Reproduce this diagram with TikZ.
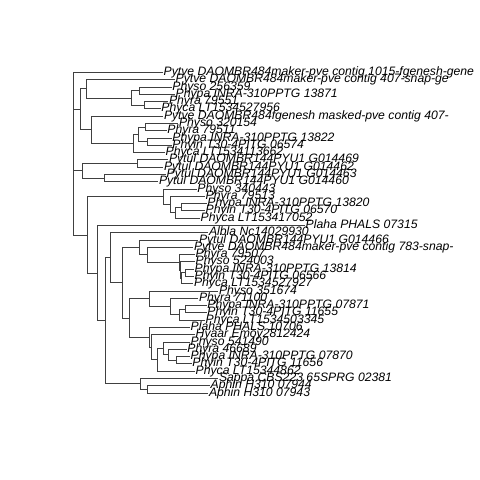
\documentclass[tikz,border=0pt]{standalone}
\usepackage{fontspec}
\setmainfont{Liberation Sans}
\begin{document}
\begin{tikzpicture}[x=1pt,y=-1pt,
  br/.style={draw=black!75,line width=0.9pt},
  lab/.style={anchor=base west,inner sep=0pt,xshift=0.5pt,yshift=-3pt,font=\itshape\fontsize{12.2}{12.2}\selectfont}]
\useasboundingbox (0,0) rectangle (480,480);
% tips
\coordinate (t1) at (163,72.5);
\coordinate (t2) at (175,79.78);
\coordinate (t3) at (171.7,87.07);
\coordinate (t4) at (175,94.35);
\coordinate (t5) at (168.3,101.64);
\coordinate (t6) at (160.7,108.92);
\coordinate (t7) at (163.3,116.2);
\coordinate (t8) at (178.3,123.49);
\coordinate (t9) at (166.7,130.77);
\coordinate (t10) at (171.7,138.06);
\coordinate (t11) at (171.7,145.34);
\coordinate (t12) at (165,152.62);
\coordinate (t13) at (168.3,159.91);
\coordinate (t14) at (163.3,167.19);
\coordinate (t15) at (166,174.48);
\coordinate (t16) at (158.3,181.76);
\coordinate (t17) at (196.7,189.04);
\coordinate (t18) at (205,196.33);
\coordinate (t19) at (206.7,203.61);
\coordinate (t20) at (205,210.9);
\coordinate (t21) at (200,218.18);
\coordinate (t22) at (305,225.46);
\coordinate (t23) at (208.3,232.75);
\coordinate (t24) at (198.3,240.03);
\coordinate (t25) at (193.3,247.32);
\coordinate (t26) at (195,254.6);
\coordinate (t27) at (195,261.88);
\coordinate (t28) at (194,269.17);
\coordinate (t29) at (194,276.45);
\coordinate (t30) at (193.3,283.74);
\coordinate (t31) at (218.3,291.02);
\coordinate (t32) at (198.3,298.3);
\coordinate (t33) at (206.7,305.59);
\coordinate (t34) at (206.7,312.87);
\coordinate (t35) at (205,320.16);
\coordinate (t36) at (190,327.44);
\coordinate (t37) at (195,334.72);
\coordinate (t38) at (190,342.01);
\coordinate (t39) at (186.7,349.29);
\coordinate (t40) at (190,356.58);
\coordinate (t41) at (191.7,363.86);
\coordinate (t42) at (195,371.14);
\coordinate (t43) at (218.3,378.43);
\coordinate (t44) at (210,385.71);
\coordinate (t45) at (208.3,393);
% internal nodes
\coordinate (R) at (73.3,146.92);
\coordinate (A) at (80,109.38);
\coordinate (A1) at (86.7,88.89);
\coordinate (A1b) at (131.3,98.0);
\coordinate (A1b1) at (139,90.71);
\coordinate (A1b2) at (144,105.28);
\coordinate (A2) at (91,129.86);
\coordinate (A2b) at (133.5,143.52);
\coordinate (A2b1) at (138.3,134.42);
\coordinate (A2b1a) at (145,127.13);
\coordinate (A2b1b) at (147,141.7);
\coordinate (P) at (82.7,170.84);
\coordinate (P1) at (137.7,163.55);
\coordinate (P2) at (104.5,178.12);
\coordinate (L) at (87,234.96);
\coordinate (L1) at (163.3,196.78);
\coordinate (L1a) at (170,204.53);
\coordinate (L1b) at (175,212.72);
\coordinate (L1b1) at (181.7,207.26);
\coordinate (L2) at (97.3,273.14);
\coordinate (L2b) at (105.3,320.82);
\coordinate (L3) at (110,257.75);
\coordinate (L3b) at (122.7,282.74);
\coordinate (L5) at (139.3,247.43);
\coordinate (L5b) at (147.3,254.83);
\coordinate (L5c) at (179.5,262.34);
\coordinate (L5d) at (180.5,270.08);
\coordinate (L5e) at (181.5,278.27);
\coordinate (L5f) at (185,272.81);
\coordinate (L6) at (129,318.05);
\coordinate (L7) at (149.5,298.76);
\coordinate (L7b) at (170.5,306.5);
\coordinate (L7c) at (179.3,314.69);
\coordinate (L7d) at (185,309.23);
\coordinate (L8) at (149.3,337.34);
\coordinate (L8b) at (151,347.24);
\coordinate (L8c) at (157.7,359.76);
\coordinate (L8d) at (163.3,348.38);
\coordinate (L8e) at (168,354.76);
\coordinate (L8f) at (176,360.22);
\coordinate (L4) at (140,383.89);
\coordinate (L4b) at (147.3,389.36);
% edges
\foreach \p/\c in {R/t1,R/A,R/P,R/L,
  A/A1,A/A2,A1/t2,A1/A1b,A1b/A1b1,A1b/A1b2,A1b1/t3,A1b1/t4,A1b2/t5,A1b2/t6,
  A2/t7,A2/A2b,A2b/A2b1,A2b/t12,A2b1/A2b1a,A2b1/A2b1b,A2b1a/t8,A2b1a/t9,A2b1b/t10,A2b1b/t11,
  P/P1,P/P2,P1/t13,P1/t14,P2/t15,P2/t16,
  L/L1,L/L2,L1/t17,L1/L1a,L1a/t18,L1a/L1b,L1b/L1b1,L1b/t21,L1b1/t19,L1b1/t20,
  L2/t22,L2/L2b,L2b/L3,L2b/L4,L3/t23,L3/L3b,L3b/L5,L3b/L6,
  L5/t24,L5/L5b,L5b/t25,L5b/L5c,L5c/t26,L5c/L5d,L5d/t27,L5d/L5e,L5e/L5f,L5e/t30,L5f/t28,L5f/t29,
  L6/L7,L6/L8,L7/t31,L7/L7b,L7b/t32,L7b/L7c,L7c/L7d,L7c/t35,L7d/t33,L7d/t34,
  L8/t36,L8/L8b,L8b/t37,L8b/L8c,L8c/L8d,L8c/t42,L8d/t38,L8d/L8e,L8e/t39,L8e/L8f,L8f/t40,L8f/t41,
  L4/t43,L4/L4b,L4b/t44,L4b/t45}
  {\draw[br] (\p) |- (\c);}
% labels
\node[lab] (n1) at (t1) {Pytve DAOMBR484maker-pve contig 1015-fgenesh-gene};
\node[lab] (n2) at (t2) {Pytve DAOMBR484maker-pve contig 407-snap-ge};
\node[lab] (n3) at (t3) {Physo 256359};
\node[lab] (n4) at (t4) {Phypa INRA-310PPTG 13871};
\node[lab] (n5) at (t5) {Phyra 79551};
\node[lab] (n6) at (t6) {Phyca LT1534527956};
\node[lab] (n7) at (t7) {Pytve DAOMBR484fgenesh masked-pve contig 407-};
\node[lab] (n8) at (t8) {Physo 320154};
\node[lab] (n9) at (t9) {Phyra 79511};
\node[lab] (n10) at (t10) {Phypa INRA-310PPTG 13822};
\node[lab] (n11) at (t11) {Phyin T30-4PITG 06574};
\node[lab] (n12) at (t12) {Phyca LT1534113662};
\node[lab] (n13) at (t13) {Pytul DAOMBR144PYU1 G014469};
\node[lab] (n14) at (t14) {Pytul DAOMBR144PYU1 G014462};
\node[lab] (n15) at (t15) {Pytul DAOMBR144PYU1 G014463};
\node[lab] (n16) at (t16) {Pytul DAOMBR144PYU1 G014460};
\node[lab] (n17) at (t17) {Physo 340443};
\node[lab] (n18) at (t18) {Phyra 79513};
\node[lab] (n19) at (t19) {Phypa INRA-310PPTG 13820};
\node[lab] (n20) at (t20) {Phyin T30-4PITG 06570};
\node[lab] (n21) at (t21) {Phyca LT153417052};
\node[lab] (n22) at (t22) {Plaha PHALS 07315};
\node[lab] (n23) at (t23) {Albla Nc14029930};
\node[lab] (n24) at (t24) {Pytul DAOMBR144PYU1 G014466};
\node[lab] (n25) at (t25) {Pytve DAOMBR484maker-pve contig 783-snap-};
\node[lab] (n26) at (t26) {Phyra 79507};
\node[lab] (n27) at (t27) {Physo 524003};
\node[lab] (n28) at (t28) {Phypa INRA-310PPTG 13814};
\node[lab] (n29) at (t29) {Phyin T30-4PITG 06566};
\node[lab] (n30) at (t30) {Phyca LT1534527927};
\node[lab] (n31) at (t31) {Physo 351674};
\node[lab] (n32) at (t32) {Phyra 71100};
\node[lab] (n33) at (t33) {Phypa INRA-310PPTG 07871};
\node[lab] (n34) at (t34) {Phyin T30-4PITG 11655};
\node[lab] (n35) at (t35) {Phyca LT1534503345};
\node[lab] (n36) at (t36) {Plaha PHALS 10706};
\node[lab] (n37) at (t37) {Hyaar Emoy2812424};
\node[lab] (n38) at (t38) {Physo 541490};
\node[lab] (n39) at (t39) {Phyra 46689};
\node[lab] (n40) at (t40) {Phypa INRA-310PPTG 07870};
\node[lab] (n41) at (t41) {Phyin T30-4PITG 11656};
\node[lab] (n42) at (t42) {Phyca LT15344862};
\node[lab] (n43) at (t43) {Sappa CBS223 65SPRG 02381};
\node[lab] (n44) at (t44) {Aphin H310 07944};
\node[lab] (n45) at (t45) {Aphin H310 07943};
\end{tikzpicture}
\end{document}
